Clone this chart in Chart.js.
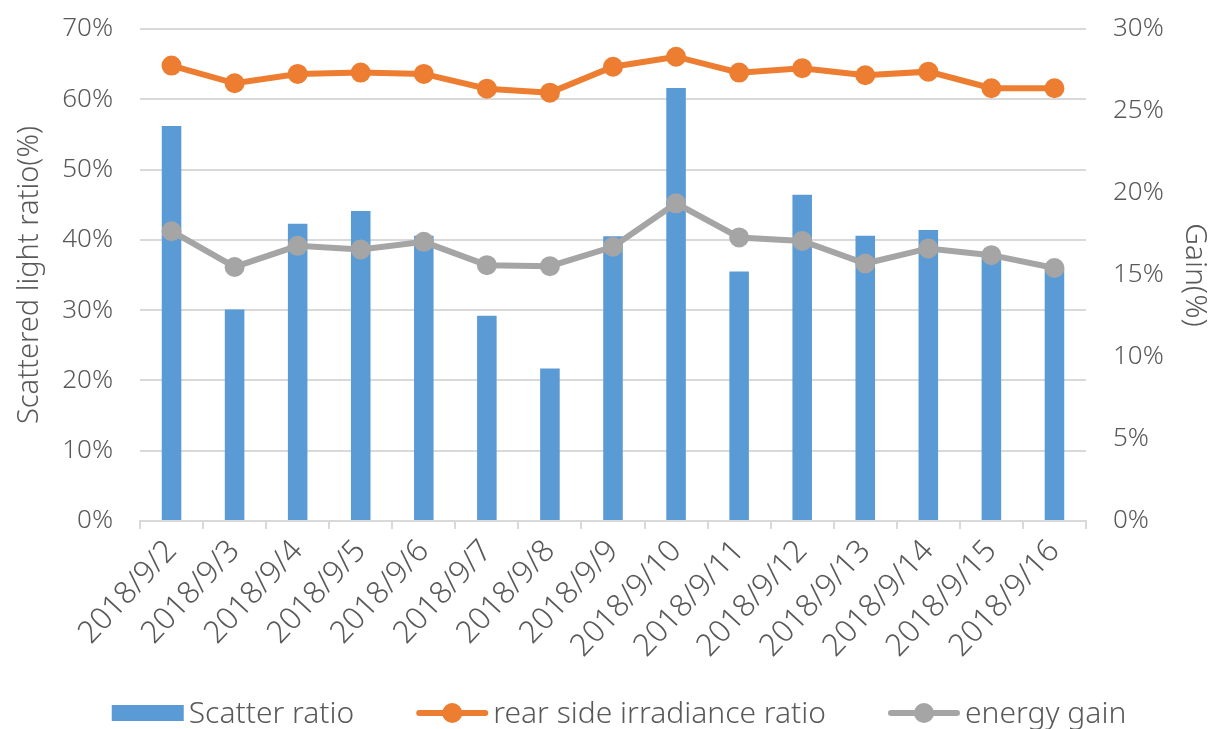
<!DOCTYPE html>
<html>
<head>
<meta charset="utf-8">
<title>Scattered light ratio and gain</title>
<script src="https://cdn.jsdelivr.net/npm/chart.js@4.4.1/dist/chart.umd.min.js"></script>
<style>
  html, body { margin: 0; padding: 0; background: #ffffff; }
  #wrap { width: 1222px; height: 729px; position: relative; }
</style>
</head>
<body>
<div id="wrap"><canvas id="chart" width="1222" height="729"></canvas></div>
<script>
// Daily measurements, 2018-09-02 .. 2018-09-16
const dates = ['2018/9/2', '2018/9/3', '2018/9/4', '2018/9/5', '2018/9/6', '2018/9/7', '2018/9/8',
  '2018/9/9', '2018/9/10', '2018/9/11', '2018/9/12', '2018/9/13', '2018/9/14', '2018/9/15', '2018/9/16'];

// Share of scattered light (left axis, %)
const scatterRatio = [56.2, 30.1, 42.3, 44.1, 40.6, 29.2, 21.7, 40.5, 61.6, 35.5, 46.4, 40.6, 41.4, 38.0, 35.9];

// Rear side irradiance ratio (right axis, %)
const rearIrradianceRatio = [27.77, 26.69, 27.26, 27.34, 27.26, 26.36, 26.12, 27.70, 28.31, 27.34, 27.61, 27.18, 27.40, 26.39, 26.39];

// Energy gain (right axis, %)
const energyGain = [17.67, 15.49, 16.78, 16.56, 17.02, 15.60, 15.54, 16.72, 19.37, 17.29, 17.08, 15.70, 16.62, 16.21, 15.43];

// Axis tick settings
const leftTicks = { min: 0, max: 70, step: 10 };
const rightTicks = { min: 0, max: 30, step: 5 };

const FONT = "'Noto Sans', 'Noto Sans CJK SC', sans-serif";
const WEIGHT = '300';
const TEXT = '#595959';
const GRID = '#d9d9d9';
const BLUE = '#5b9bd5';
const ORANGE = '#ed7d31';
const GREY = '#a5a5a5';

// Legend along the bottom: bar swatch, then line-with-marker swatches
const bottomLegend = {
  id: 'bottomLegend',
  afterDraw(chart) {
    const ctx = chart.ctx;
    const y = 713;
    const swatchW = 72;
    const gapText = 5;
    const gapItem = 62;
    ctx.save();
    ctx.font = WEIGHT + ' 30px ' + FONT;
    ctx.textBaseline = 'middle';
    const items = chart.data.datasets
      .slice()
      .sort((a, b) => b.order - a.order)
      .map(ds => ({
        label: ds.label,
        type: ds.type,
        color: ds.type === 'bar' ? ds.backgroundColor : ds.borderColor,
        w: swatchW + gapText + ctx.measureText(ds.label).width
      }));
    const total = items.reduce((s, it) => s + it.w, 0) + gapItem * (items.length - 1);
    let x = 619 - total / 2;
    items.forEach(it => {
      if (it.type === 'bar') {
        ctx.fillStyle = it.color;
        ctx.fillRect(x, y - 8, swatchW, 16);
      } else {
        ctx.strokeStyle = it.color;
        ctx.lineWidth = 6;
        ctx.lineCap = 'round';
        ctx.beginPath();
        ctx.moveTo(x + 3, y);
        ctx.lineTo(x + swatchW - 3, y);
        ctx.stroke();
        ctx.fillStyle = it.color;
        ctx.beginPath();
        ctx.arc(x + swatchW / 2, y, 10, 0, Math.PI * 2);
        ctx.fill();
      }
      ctx.fillStyle = TEXT;
      ctx.textAlign = 'left';
      ctx.fillText(it.label, x + swatchW + gapText, y + 1);
      x += it.w + gapItem;
    });
    ctx.restore();
  }
};

const pct = v => v + '%';
const tickFont = { family: FONT, size: 26, weight: WEIGHT };

// Fixed axis widths; the label padding should not push the plot area down
function fixWidth(w) {
  return scale => {
    scale.width = w;
    scale.paddingTop = 0;
    scale.paddingBottom = 0;
  };
}

new Chart(document.getElementById('chart'), {
  data: {
    labels: dates,
    datasets: [
      {
        type: 'line',
        label: 'rear side irradiance ratio',
        data: rearIrradianceRatio,
        yAxisID: 'yRight',
        borderColor: ORANGE,
        backgroundColor: ORANGE,
        borderWidth: 6,
        pointRadius: 9,
        pointBorderWidth: 2,
        pointBackgroundColor: ORANGE,
        pointBorderColor: ORANGE,
        tension: 0,
        order: 2
      },
      {
        type: 'line',
        label: 'energy gain',
        data: energyGain,
        yAxisID: 'yRight',
        borderColor: GREY,
        backgroundColor: GREY,
        borderWidth: 6,
        pointRadius: 9,
        pointBorderWidth: 2,
        pointBackgroundColor: GREY,
        pointBorderColor: GREY,
        tension: 0,
        order: 1
      },
      {
        type: 'bar',
        label: 'Scatter ratio',
        data: scatterRatio,
        yAxisID: 'yLeft',
        backgroundColor: BLUE,
        borderWidth: 0,
        barPercentage: 0.31,
        categoryPercentage: 1,
        order: 3
      }
    ]
  },
  options: {
    responsive: false,
    animation: false,
    layout: { autoPadding: false, padding: { top: 29, left: 0, right: 0, bottom: 0 } },
    plugins: {
      legend: { display: false },
      tooltip: { enabled: false }
    },
    scales: {
      x: {
        offset: true,
        afterFit(scale) { scale.height = 208; },
        border: { display: true, color: GRID, width: 2 },
        grid: { drawOnChartArea: false, drawTicks: true, tickLength: 8, color: GRID, lineWidth: 2, offset: true },
        ticks: {
          color: TEXT,
          font: { family: FONT, size: 31, weight: WEIGHT },
          minRotation: 47,
          maxRotation: 47,
          autoSkip: false,
          padding: 4
        }
      },
      yLeft: {
        position: 'left',
        min: leftTicks.min,
        max: leftTicks.max,
        afterFit: fixWidth(140),
        border: { display: false },
        grid: { color: GRID, lineWidth: 2, drawTicks: false },
        ticks: {
          stepSize: leftTicks.step,
          color: TEXT,
          font: tickFont,
          padding: 27,
          callback: pct
        },
        title: {
          display: true,
          text: 'Scattered light ratio(%)',
          color: TEXT,
          font: { family: FONT, size: 29, weight: WEIGHT },
          padding: { top: 12, bottom: 0 }
        }
      },
      yRight: {
        position: 'right',
        min: rightTicks.min,
        max: rightTicks.max,
        afterFit: fixWidth(136),
        border: { display: false },
        grid: { drawOnChartArea: false, drawTicks: false },
        ticks: {
          stepSize: rightTicks.step,
          color: TEXT,
          font: tickFont,
          padding: 27,
          callback: pct
        },
        title: {
          display: true,
          text: 'Gain(%)',
          color: TEXT,
          font: { family: FONT, size: 30, weight: WEIGHT },
          padding: { top: 9, bottom: 0 }
        }
      }
    }
  },
  plugins: [bottomLegend]
});
</script>
</body>
</html>
